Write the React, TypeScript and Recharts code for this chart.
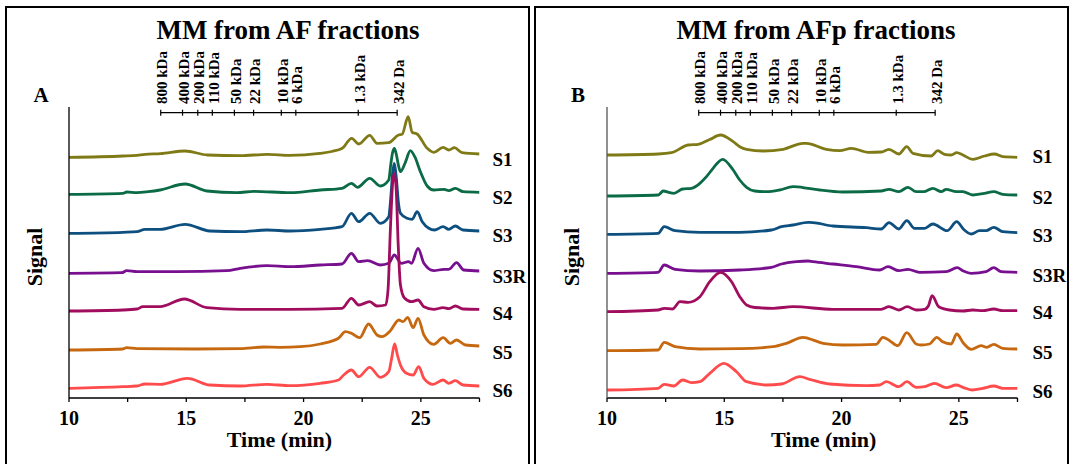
import { LineChart, Line, XAxis, YAxis, ReferenceLine, ReferenceDot } from "recharts";

type Pt = [number, number]; // [time (min), signal]

const FONT = '"Liberation Serif", "Times New Roman", serif';

const seriesNames = ["S1", "S2", "S3", "S3R", "S4", "S5", "S6"];
const seriesColors = ["#7f7a16", "#0b6b47", "#0d4f7e", "#770f8f", "#a10d5e", "#c6680f", "#ff4b4b"];

const timeTicks = [10, 12.5, 15, 17.5, 20, 22.5, 25, 27.5];
const mwLabels = ["800 kDa", "400 kDa", "200 kDa", "110 kDa", "50 kDa", "22 kDa", "10 kDa", "6 kDa", "1.3 kDa", "342 Da"];
const mwTimes = [13.91, 14.84, 15.49, 16.11, 17.05, 17.87, 19.05, 19.67, 22.33, 23.99];

// stacking offsets (baseline of each trace)
const afOffsets = [242, 204, 166, 125, 88, 49, 11];
const afpOffsets = [243, 202, 164, 124, 87, 47, 8];

// ---- MM from AF fractions ----
const afS1: Pt[] = [
  [10, -1.3], [12.3, 0], [12.9, 0.7], [13.25, 1.7], [13.9, 2.3], [14.95, 5], [15.9, 1], [17.3, 0.3],
  [18.45, 1.7], [19.4, 0.7], [20.7, 2.7], [21.2, 4.5], [21.65, 7.7], [22.05, 17.7], [22.35, 12],
  [22.82, 20.7], [23.13, 12.7], [23.63, 13.3], [24.05, 21], [24.2, 21.7], [24.46, 39.3], [24.63, 23.7],
  [24.84, 22], [25.27, 7.7], [25.55, 3.7], [25.95, 8.7], [26.19, 6], [26.43, 8.3], [26.76, 3.3], [27.5, 2],
];
const afS2: Pt[] = [
  [10, -0.3], [12.3, 0.7], [12.46, 2], [12.9, 1.3], [13.38, 2.3], [13.88, 4], [14.95, 10], [15.88, 3],
  [17.16, 1.3], [17.88, 2.7], [19.43, 1.3], [20.71, 4], [21.64, 5.7], [22.04, 10.7], [22.3, 6.7],
  [22.82, 15.7], [23.27, 8], [23.63, 14], [23.72, 30], [23.8, 42], [23.87, 45.7], [23.95, 40], [24.05, 28],
  [24.13, 22.3], [24.34, 31.7], [24.55, 43.3], [24.74, 37.3], [24.98, 22.3], [25.27, 8], [25.55, 4],
  [26.0, 4.7], [26.19, 3.3], [26.47, 5.7], [26.8, 2.3], [27.5, 1.7],
];
const afS3: Pt[] = [
  [10, -1.3], [12.3, -0.3], [12.9, 0.3], [13.24, 2.7], [13.88, 2.7], [14.95, 7.7], [16.0, 1], [17.3, 0.3],
  [18.44, 2], [19.43, 1], [20.71, 2.7], [21.64, 5.3], [22.04, 18.7], [22.35, 10.3], [22.82, 18.7],
  [23.27, 8.7], [23.63, 15.3], [23.72, 35], [23.8, 60], [23.87, 68.7], [23.95, 55], [24.05, 28],
  [24.13, 18.7], [24.41, 13.7], [24.63, 12.7], [24.84, 20.3], [25.06, 10.3], [25.34, 3.7], [25.58, 2],
  [25.95, 5.3], [26.19, 2.7], [26.47, 6], [26.8, 2], [27.5, 1],
];
const afS3R: Pt[] = [
  [10, -0.3], [12.25, 0.3], [12.46, 2.3], [12.9, 1.3], [14.6, 1.3], [16.73, 2.3], [17.3, 4.7], [18.44, 7.3],
  [19.43, 6.3], [20.71, 8], [21.64, 9], [22.04, 19.7], [22.35, 11.3], [22.73, 12.3], [23.27, 8],
  [23.63, 9.7], [23.87, 18], [24.16, 9.7], [24.48, 11.3], [24.6, 9.7], [24.88, 24.7], [25.13, 9.7],
  [25.55, 2.3], [25.98, 3.7], [26.19, 3.7], [26.52, 10.3], [26.83, 3], [27.5, 2],
];
const afS4: Pt[] = [
  [10, -1], [12.3, 0], [12.9, 1], [13.15, 3.3], [13.88, 3.3], [14.92, 11], [15.88, 2.3], [17.3, 0.7],
  [19.4, 0.7], [21.64, 1.7], [22.04, 11.7], [22.35, 5], [22.82, 8.3], [23.13, 4], [23.5, 5], [23.6, 20],
  [23.7, 80], [23.8, 128], [23.87, 136.7], [23.95, 120], [24.03, 68], [24.13, 25], [24.3, 12], [24.6, 8.3],
  [24.88, 10], [25.13, 3.3], [25.55, 0.7], [25.95, 2.3], [26.19, 1.3], [26.47, 4], [26.8, 1], [27.5, 0.7],
];
const afS5: Pt[] = [
  [10, -1], [12.3, 0], [12.46, 1.3], [12.9, 0.3], [15.4, 0], [17.3, 0.3], [18.3, 2], [19.0, 1.7],
  [19.86, 2.3], [20.71, 5], [21.49, 10.7], [21.78, 17.3], [22.04, 15.7], [22.39, 11.3], [22.77, 25],
  [23.13, 14], [23.34, 12.3], [23.7, 18.3], [24.06, 29], [24.24, 27.3], [24.44, 31.7], [24.67, 21.3],
  [24.88, 30.7], [25.13, 14], [25.55, 4.7], [25.95, 11.3], [26.26, 5.7], [26.52, 9], [26.9, 4], [27.5, 3],
];
const afS6: Pt[] = [
  [10, -1.3], [12.3, 0.3], [12.9, 1], [13.24, 3], [13.88, 2.7], [15.05, 8.7], [16.0, 2], [17.3, 1],
  [18.44, 2.7], [19.43, 1.3], [20.71, 3.7], [21.49, 7], [21.71, 12], [22.04, 17], [22.35, 10.3],
  [22.82, 19.7], [23.27, 9.7], [23.63, 15.3], [23.75, 28], [23.88, 43], [24.0, 32], [24.13, 22],
  [24.39, 13.7], [24.67, 12], [24.91, 20.3], [25.13, 8.7], [25.52, 2.7], [25.95, 7], [26.19, 3.7],
  [26.47, 6.3], [26.8, 2], [27.5, 1],
];

// ---- MM from AFp fractions ----
const afpS1: Pt[] = [
  [10, 0], [12.18, 1], [12.75, 2.3], [13.46, 10], [13.89, 10.7], [14.38, 15.5], [14.84, 20], [15.38, 13.3],
  [15.66, 8.3], [15.95, 5.7], [16.66, 4], [17.51, 5.7], [18.36, 11.7], [18.5, 11.7], [19.35, 5.7],
  [19.92, 4.3], [20.42, 6.7], [21.13, 2.7], [21.69, 3], [22.02, 5.7], [22.44, 1], [22.78, 8.3], [23.04, 1.7],
  [23.82, -1], [24.1, 4.3], [24.39, 0.7], [24.67, 0], [24.91, 2.3], [25.17, 0], [25.59, -4.3], [26.09, -1],
  [26.52, 1], [26.87, -1.7], [27.5, -2.3],
];
const afpS2: Pt[] = [
  [10, 0], [12.18, 1], [12.4, 5], [12.68, 3.3], [12.85, 2.7], [13.22, 7], [13.6, 7.7], [13.96, 12.7],
  [14.24, 19.3], [14.52, 27.7], [14.93, 36.7], [15.38, 26], [15.66, 16], [15.95, 8.7], [16.3, 5],
  [16.8, 4.3], [17.36, 6], [17.93, 9.3], [18.57, 7.7], [19.07, 6], [20.06, 4], [21.69, 5], [22.02, 6.7],
  [22.44, 4.3], [22.83, 8.7], [23.18, 4.3], [23.5, 4.3], [23.89, 7.7], [24.25, 4.3], [24.46, 6.7],
  [24.89, 4.3], [25.17, 4.3], [25.59, 1], [26.09, 2.7], [26.49, 4.3], [26.87, 1.7], [27.5, 1],
];
const afpS3: Pt[] = [
  [10, -0.3], [12.18, 0.7], [12.44, 7.3], [12.9, 3.3], [13.96, 1.7], [15.66, 1.7], [17.01, 4], [17.44, 7.3],
  [17.93, 9], [18.57, 11.7], [18.64, 11.7], [19.63, 8], [21.06, 6.3], [21.69, 5], [22.02, 11.3], [22.44, 5],
  [22.78, 13.3], [23.11, 5.7], [23.54, 5.7], [23.89, 10], [24.5, 3.3], [24.91, 12.3], [25.2, 4.7],
  [25.53, 0], [25.88, 3.3], [26.16, 3.3], [26.49, 6.7], [26.87, 2.3], [27.5, 1.3],
];
const afpS3R: Pt[] = [
  [10, 0.7], [12.18, 1.7], [12.44, 9], [12.9, 4.7], [13.96, 3], [15.66, 4], [17.01, 6.7], [17.44, 10],
  [18.08, 12.3], [18.57, 13], [18.78, 12.3], [19.63, 10], [20.63, 7.3], [21.62, 4], [21.98, 7.3],
  [22.44, 3.3], [22.83, 4.7], [23.32, 1.7], [24.46, 2.3], [24.93, 6.3], [25.17, 3.3], [25.53, 0.7],
  [26.16, 2.3], [26.49, 6.3], [26.8, 2.3], [27.5, 1.7],
];
const afpS4: Pt[] = [
  [10, -0.7], [12.18, 1], [12.44, 2.7], [12.8, 2], [13.11, 9.3], [13.46, 8.7], [13.96, 14.3], [14.38, 29.3],
  [14.84, 38.7], [15.31, 29.3], [15.66, 14.3], [15.95, 6], [16.3, 3.5], [17.08, 2.7], [17.93, 4.3],
  [19.63, 1.7], [21.69, 1.7], [22.02, 4.3], [22.44, 1], [22.8, 4.3], [23.18, 1], [23.54, 1.7], [23.7, 5],
  [23.86, 15.3], [24.14, 4.3], [24.6, 1], [25.17, 0], [25.59, 1], [26.02, 0.3], [26.49, 2], [26.87, 0.3],
  [27.5, 0.3],
];
const afpS5: Pt[] = [
  [10, 0.3], [12.18, 1], [12.44, 8.7], [12.9, 4.3], [13.96, 2], [15.66, 2.3], [17.08, 4.3], [17.65, 7.7],
  [18.36, 13.7], [18.57, 12.7], [19.21, 7.7], [20.06, 6], [21.48, 6.7], [21.76, 13.7], [22.05, 10.3],
  [22.4, 5.3], [22.78, 18.3], [23.18, 7], [23.39, 6], [23.75, 7], [24.06, 13.7], [24.31, 9.3], [24.67, 7],
  [24.91, 17], [25.2, 7.7], [25.53, 1.7], [25.95, 5.3], [26.19, 3.7], [26.49, 6.7], [26.87, 2.7], [27.5, 2],
];
const afpS6: Pt[] = [
  [10, 0], [12.18, 1.7], [12.44, 5.7], [12.85, 4], [13.22, 10], [13.6, 7.3], [13.96, 8.3], [14.38, 16.7],
  [14.98, 26.7], [15.52, 18.3], [15.95, 8.3], [16.8, 5], [17.44, 6], [18.22, 13.3], [18.64, 10.7],
  [19.49, 6], [21.06, 4.3], [21.62, 5], [21.91, 8.3], [22.44, 3.3], [22.78, 8.3], [23.18, 2.7],
  [23.54, 3.3], [23.96, 6.7], [24.46, 2.3], [24.89, 5], [25.17, 2.7], [25.56, 0], [26.02, 1.7],
  [26.49, 4], [26.87, 1.7], [27.5, 1.7],
];

const afTraces = [afS1, afS2, afS3, afS3R, afS4, afS5, afS6];
const afpTraces = [afpS1, afpS2, afpS3, afpS3R, afpS4, afpS5, afpS6];

const H = 464;
const PLOT_TOP = 107;
const PLOT_BOTTOM = 398;
const PLOT_W = 410.5;
const SIG_MAX = PLOT_BOTTOM - PLOT_TOP;
const RULER_Y = 112.7;
const RULER_LEVEL = PLOT_BOTTOM - RULER_Y;

const boldText = { fontFamily: FONT, fontWeight: 700, fill: "#000" };

function Panel({ left, width, yAxisWidth, labelGap, traces, offsets, labelShift, axisColor }: any) {
  return (
    <div style={{ position: "absolute", left, top: 0 }}>
      <LineChart
        width={width}
        height={H}
        margin={{ top: PLOT_TOP, right: width - yAxisWidth - PLOT_W, bottom: 0, left: 0 }}
      >
        <XAxis
          xAxisId="time"
          dataKey="t"
          type="number"
          domain={[10, 27.5]}
          ticks={timeTicks}
          interval={0}
          allowDataOverflow
          tickFormatter={(v: number) => (v % 5 === 0 ? String(v) : "")}
          height={H - PLOT_BOTTOM}
          tickSize={4}
          tickMargin={9}
          stroke="#000"
          strokeWidth={1.3}
          tick={{ ...boldText, fontSize: 20 }}
        />
        <YAxis
          yAxisId="sig"
          type="number"
          domain={[0, SIG_MAX]}
          allowDataOverflow
          width={yAxisWidth}
          tick={false}
          tickLine={false}
          stroke={axisColor}
          strokeWidth={1.3}
        />

        {/* molecular-mass calibration ruler */}
        <ReferenceLine
          xAxisId="time"
          yAxisId="sig"
          segment={[
            { x: mwTimes[0], y: RULER_LEVEL },
            { x: mwTimes[mwTimes.length - 1], y: RULER_LEVEL },
          ]}
          stroke="#000"
          strokeWidth={1.2}
        />
        {mwTimes.map((t, i) => (
          <ReferenceLine
            key={mwLabels[i]}
            xAxisId="time"
            yAxisId="sig"
            segment={[
              { x: t, y: RULER_LEVEL - 3 },
              { x: t, y: RULER_LEVEL + 3 },
            ]}
            stroke="#000"
            strokeWidth={1.2}
            label={(p: any) => {
              const x = p.viewBox.x + 6.5;
              return (
                <text x={x} y={104} transform={`rotate(-90 ${x} 104)`} fontSize={15} {...boldText}>
                  {mwLabels[i]}
                </text>
              );
            }}
          />
        ))}

        {traces.map((pts: Pt[], i: number) => (
          <Line
            key={seriesNames[i]}
            xAxisId="time"
            yAxisId="sig"
            data={pts.map(([t, v]) => ({ t, y: offsets[i] + v }))}
            dataKey="y"
            type="monotone"
            dot={false}
            activeDot={false}
            stroke={seriesColors[i]}
            strokeWidth={2.8}
            strokeLinejoin="round"
            isAnimationActive={false}
          />
        ))}

        {/* series names at the right end of each trace */}
        {offsets.map((o: number, i: number) => (
          <ReferenceDot
            key={`lab-${seriesNames[i]}`}
            xAxisId="time"
            yAxisId="sig"
            x={27.5}
            y={o - labelShift}
            r={0}
            stroke="none"
            fill="none"
            label={(p: any) => (
              <text
                x={p.viewBox.x + p.viewBox.width + labelGap}
                y={p.viewBox.y + p.viewBox.height / 2}
                dy="0.35em"
                fontSize={19}
                {...boldText}
              >
                {seriesNames[i]}
              </text>
            )}
          />
        ))}
      </LineChart>
    </div>
  );
}

export default function App() {
  return (
    <div
      style={{
        position: "absolute",
        left: 0,
        top: 0,
        width: 1073,
        height: H,
        background: "#fff",
        overflow: "hidden",
      }}
    >
      <Panel
        left={0}
        width={533}
        yAxisWidth={69}
        labelGap={13}
        traces={afTraces}
        offsets={afOffsets}
        labelShift={3}
        axisColor="#000"
      />
      <Panel
        left={533}
        width={540}
        yAxisWidth={74}
        labelGap={15}
        traces={afpTraces}
        offsets={afpOffsets}
        labelShift={1}
        axisColor="#555"
      />
      <svg
        width={1073}
        height={H}
        style={{ position: "absolute", left: 0, top: 0, pointerEvents: "none" }}
      >
        <rect x={6} y={7} width={523} height={470} fill="none" stroke="#000" strokeWidth={2} />
        <rect x={535} y={7} width={533} height={470} fill="none" stroke="#000" strokeWidth={2} />

        <text x={288} y={39} textAnchor="middle" fontSize={27} {...boldText}>MM from AF fractions</text>
        <text x={816} y={39} textAnchor="middle" fontSize={27} {...boldText}>MM from AFp fractions</text>

        <text x={41} y={102} textAnchor="middle" fontSize={21} {...boldText}>A</text>
        <text x={578} y={102} textAnchor="middle" fontSize={21} {...boldText}>B</text>

        <text x={41.5} y={257} transform="rotate(-90 41.5 257)" textAnchor="middle" fontSize={22} {...boldText}>Signal</text>
        <text x={578.5} y={257} transform="rotate(-90 578.5 257)" textAnchor="middle" fontSize={22} {...boldText}>Signal</text>

        <text x={279.5} y={447} textAnchor="middle" fontSize={22} {...boldText}>Time (min)</text>
        <text x={823.7} y={447} textAnchor="middle" fontSize={22} {...boldText}>Time (min)</text>
      </svg>
    </div>
  );
}
